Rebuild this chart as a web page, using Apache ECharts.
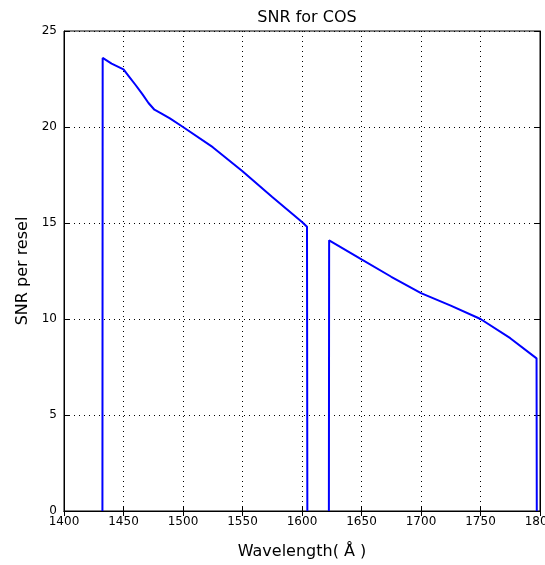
<!DOCTYPE html>
<html><head><meta charset="utf-8">
<script src="https://cdn.jsdelivr.net/npm/echarts@6/dist/echarts.min.js"></script>
<style>html,body{margin:0;padding:0;background:#fff}#c{width:545px;height:565px}</style>
</head><body><div id="c"></div>
<script>
const wavelength = [1432.3, 1432.5, 1440, 1450, 1455, 1460, 1466, 1471, 1476, 1482, 1489, 1500, 1525, 1550, 1575, 1600, 1604.2, 1604.5, 1613, 1622.6, 1622.8, 1650, 1675, 1700, 1725, 1750, 1775, 1797.1, 1797.3];
const snr        = [0, 23.6, 23.3, 23.0, 22.6, 22.2, 21.7, 21.25, 20.9, 20.7, 20.45, 20.0, 18.95, 17.7, 16.35, 15.05, 14.8, 0, null, 0, 14.1, 13.1, 12.2, 11.35, 10.7, 10.0, 9.0, 7.95, 0];
const xTicks = [1400, 1450, 1500, 1550, 1600, 1650, 1700, 1750, 1800];
const yTicks = [0, 5, 10, 15, 20, 25];
const titleText = 'SNR for COS';
const xLabel = 'Wavelength( Å )';
const yLabel = 'SNR per resel';

const font = 'DejaVu Sans';
const chart = echarts.init(document.getElementById('c'), null, {renderer: 'canvas'});
const axisCommon = {
  axisLine: {show: true, lineStyle: {color: '#000', width: 1}},
  axisTick: {show: true, inside: true, length: 5, lineStyle: {color: '#000'}},
};
chart.setOption({
  animation: false,
  backgroundColor: '#fff',
  title: {text: titleText, left: 302, top: 5, textAlign: 'center',
    textStyle: {fontFamily: font, fontSize: 16, fontWeight: 'normal', color: '#000'}},
  grid: {left: 64, right: 5, top: 31, bottom: 54, show: true, borderColor: '#000', borderWidth: 1,
    containLabel: false, outerBoundsMode: 'none'},
  xAxis: [{
    type: 'value', min: xTicks[0], max: xTicks[xTicks.length - 1], interval: 50, position: 'bottom',
    ...axisCommon,
    axisLabel: {fontFamily: font, fontSize: 12, color: '#000', margin: 5, formatter: v => String(v),
      showMinLabel: true, showMaxLabel: true, hideOverlap: false},
    splitLine: {show: true, lineStyle: {color: '#000', type: [1, 4], width: 1}},
    name: xLabel, nameLocation: 'middle', nameGap: 33,
    nameTextStyle: {fontFamily: font, fontSize: 16, color: '#000'}
  }, {
    type: 'value', min: xTicks[0], max: xTicks[xTicks.length - 1], interval: 50, position: 'top',
    ...axisCommon, axisLabel: {show: false}, splitLine: {show: false}
  }],
  yAxis: [{
    type: 'value', min: yTicks[0], max: yTicks[yTicks.length - 1], interval: 5, position: 'left',
    ...axisCommon,
    axisLabel: {fontFamily: font, fontSize: 12, color: '#000', margin: 7},
    splitLine: {show: true, lineStyle: {color: '#000', type: [1, 4], width: 1}},
    name: yLabel, nameLocation: 'middle', nameGap: 33,
    nameTextStyle: {fontFamily: font, fontSize: 16, color: '#000'}
  }, {
    type: 'value', min: yTicks[0], max: yTicks[yTicks.length - 1], interval: 5, position: 'right',
    ...axisCommon, axisLabel: {show: false}, splitLine: {show: false}
  }],
  series: [{
    type: 'line', xAxisIndex: 0, yAxisIndex: 0,
    data: wavelength.map((w, i) => [w, snr[i]]),
    showSymbol: false, symbol: 'none', connectNulls: false,
    lineStyle: {color: '#0000ff', width: 2},
    clip: true
  }]
});
</script></body></html>
